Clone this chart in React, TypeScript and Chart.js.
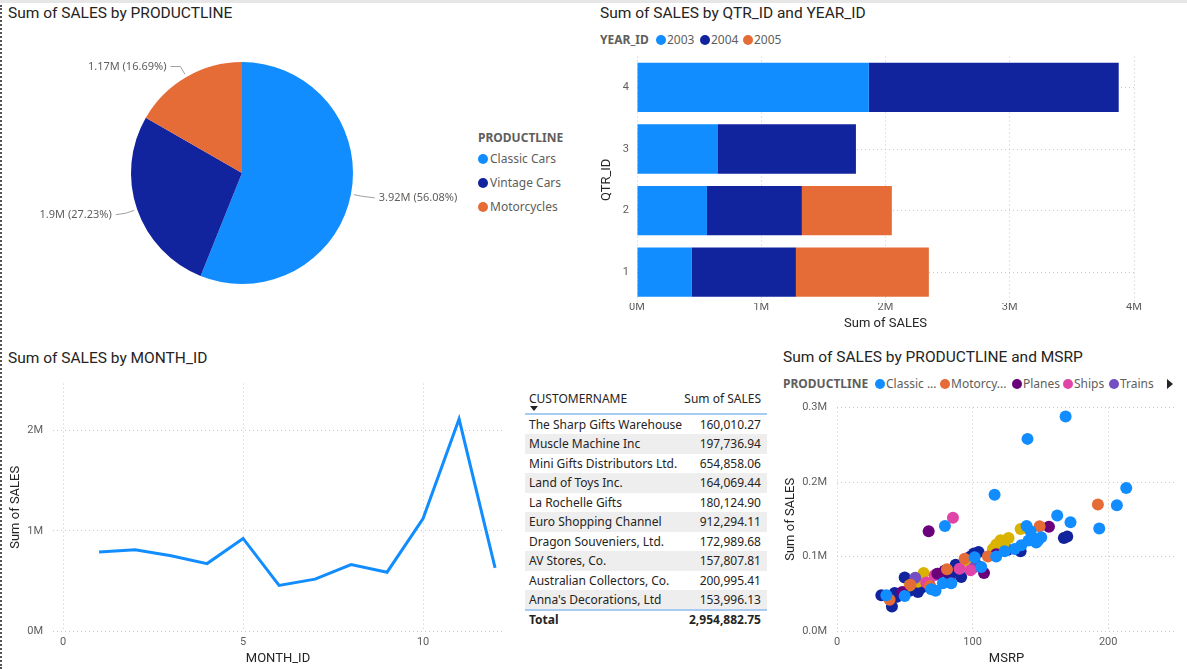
import React, { useEffect, useRef } from 'react';
import { Chart, registerables } from 'chart.js';

Chart.register(...registerables);

// ---------- DATA ----------
const productLines = ['Classic Cars', 'Vintage Cars', 'Motorcycles'];
const productSales = [3919615.66, 1903150.84, 1166388.34];
const productColors = ['#118DFF', '#12239E', '#E66C37'];

const quarterLabels = ['4', '3', '2', '1'];
const years = ['2003', '2004', '2005'];
const yearColors = ['#118DFF', '#12239E', '#E66C37'];
const sales2003 = [1866000, 652000, 563000, 442000];
const sales2004 = [2011000, 1110000, 764000, 837000];
const sales2005 = [null, null, 724000, 1070000];
const quarterTicks = [0, 1000000, 2000000, 3000000, 4000000];

const months = [1, 2, 3, 4, 5, 6, 7, 8, 9, 10, 11, 12];
const monthSales = [789000, 812000, 752000, 673000, 924000, 455000, 518000, 663000, 587000, 1122000, 2116000, 631000];

const customerNames = [
  'The Sharp Gifts Warehouse',
  'Muscle Machine Inc',
  'Mini Gifts Distributors Ltd.',
  'Land of Toys Inc.',
  'La Rochelle Gifts',
  'Euro Shopping Channel',
  'Dragon Souveniers, Ltd.',
  'AV Stores, Co.',
  'Australian Collectors, Co.',
  "Anna's Decorations, Ltd",
];
const customerSales = ['160,010.27', '197,736.94', '654,858.06', '164,069.44', '180,124.90', '912,294.11', '172,989.68', '157,807.81', '200,995.41', '153,996.13'];
const customerTotal = '2,954,882.75';

const scatterLines = ['Classic Cars', 'Motorcycles', 'Planes', 'Ships', 'Trains', 'Trucks and Buses', 'Vintage Cars'];
const scatterLegendLabels = ['Classic ...', 'Motorcy...', 'Planes', 'Ships', 'Trains'];
const scatterColors = ['#118DFF', '#E66C37', '#6B007B', '#E044A7', '#744EC2', '#D9B300', '#12239E'];
const classicCarsPoints = [
  [168.6, 288000], [140.5, 258000], [116.2, 183000], [213.3, 192000], [206.4, 169000], [193.4, 137500],
  [162.4, 155000], [172.2, 146000], [79.6, 141000], [139.8, 141000], [142.8, 134000], [141.3, 121500],
  [145.7, 124000], [148.2, 121500], [150.6, 126000], [146.9, 119000], [135.9, 115000], [131, 110000],
  [117.4, 100000], [123.6, 107000], [106.4, 86000], [78.1, 64000], [72.7, 54000], [69.5, 56000],
  [84.3, 64000], [49.9, 47000], [36.4, 48000], [101.5, 99000],
];
const motorcyclesPoints = [
  [192.4, 170000], [149.4, 140600], [111.3, 100000], [94.1, 97000], [81.1, 83000], [38.8, 42000],
  [68.5, 60500], [54.1, 62000],
];
const planesPoints = [
  [67.6, 134000], [156.3, 140000], [108.4, 78000], [117.4, 103000], [79.4, 81000], [74, 77000],
  [48.2, 52500], [83.5, 65000],
];
const shipsPoints = [[85.5, 152000], [72, 75000], [98.5, 81500], [90.4, 83700], [65.8, 65000]];
const trainsPoints = [[57.7, 71600], [101.5, 86000]];
const trucksPoints = [
  [135.4, 137000], [126.5, 125000], [120.6, 122000], [117.4, 116000], [115, 110000], [123.2, 118000],
  [63.9, 78000], [53.6, 61000], [59.7, 66000], [96.1, 92500], [115.9, 108000],
];
const vintageCarsPoints = [
  [32.7, 48000], [40.5, 33000], [42.5, 51000], [44.2, 46000], [49.9, 72000], [53.6, 54000],
  [59.7, 52500], [62.2, 58000], [65.8, 61000], [68.3, 61000], [83, 72000], [86.7, 81000],
  [87.5, 89000], [91.6, 72500], [96.1, 95000], [98.5, 100000], [101, 104000], [104.4, 106000],
  [103.4, 88000], [126, 109000], [135.4, 107000], [167.3, 125000], [169.8, 127000], [74.4, 77000],
  [79.4, 80500],
];
const scatterSeries = [classicCarsPoints, motorcyclesPoints, planesPoints, shipsPoints, trainsPoints, trucksPoints, vintageCarsPoints];

// ---------- STYLE ----------
const TITLE_FONT = 'Roboto, "DejaVu Sans", sans-serif';
const BODY_FONT = '"Noto Sans", "Open Sans", sans-serif';
const TICK_COLOR = '#605E5C';
const DARK = '#252423';
const GRID_COLOR = '#C8C6C4';

const tickFont = { family: TITLE_FONT, size: 11 };
const axisTitleFont = { family: TITLE_FONT, size: 13 };

const fmtM = (v: number) => parseFloat((v / 1e6).toFixed(2)) + 'M';

const pieLabelPlugin = {
  id: 'pieLabels',
  afterDatasetsDraw(chart: any) {
    const ctx = chart.ctx;
    const meta = chart.getDatasetMeta(0);
    const data = chart.data.datasets[0].data as number[];
    const total = data.reduce((a, b) => a + b, 0);
    ctx.save();
    ctx.font = `11px ${BODY_FONT}`;
    ctx.fillStyle = TICK_COLOR;
    ctx.strokeStyle = '#A19F9D';
    ctx.lineWidth = 1;
    ctx.textBaseline = 'middle';
    meta.data.forEach((arc: any, i: number) => {
      const { x, y, startAngle, endAngle, outerRadius } = arc.getProps(['x', 'y', 'startAngle', 'endAngle', 'outerRadius'], true);
      const mid = (startAngle + endAngle) / 2;
      const c = Math.cos(mid);
      const s = Math.sin(mid);
      const p1x = x + c * (outerRadius + 3);
      const p1y = y + s * (outerRadius + 3);
      const p2x = x + c * (outerRadius + 12);
      const p2y = y + s * (outerRadius + 12);
      const right = c >= 0;
      const p3x = p2x + (right ? 12 : -10);
      const p3y = p2y + (Math.abs(s) < 0.5 ? 1.5 : 0);
      ctx.beginPath();
      ctx.moveTo(p1x, p1y);
      ctx.lineTo(p2x, p2y);
      ctx.lineTo(p3x, p3y);
      ctx.stroke();
      ctx.textAlign = right ? 'left' : 'right';
      const label = `${fmtM(data[i])} (${((data[i] / total) * 100).toFixed(2)}%)`;
      ctx.fillText(label, p3x + (right ? 4 : -4), p3y);
    });
    ctx.restore();
  },
};

function ChartBox({ left, top, width, height, makeConfig }: any) {
  const ref = useRef<HTMLCanvasElement | null>(null);
  useEffect(() => {
    const chart = new Chart(ref.current as HTMLCanvasElement, makeConfig());
    return () => chart.destroy();
  }, []);
  return (
    <div style={{ position: 'absolute', left, top, width, height }}>
      <canvas ref={ref} />
    </div>
  );
}

const pieConfig = () => ({
  type: 'pie',
  data: {
    labels: productLines,
    datasets: [{ data: productSales, backgroundColor: productColors, borderWidth: 0 }],
  },
  options: {
    responsive: true,
    maintainAspectRatio: false,
    animation: false,
    layout: { padding: { left: 131, right: 117, top: 22, bottom: 46 } },
    plugins: { legend: { display: false }, tooltip: { enabled: false } },
  },
  plugins: [pieLabelPlugin],
});

const barConfig = () => ({
  type: 'bar',
  data: {
    labels: quarterLabels,
    datasets: [sales2003, sales2004, sales2005].map((d, i) => ({
      label: years[i],
      data: d,
      backgroundColor: yearColors[i],
      barPercentage: 0.8,
      categoryPercentage: 1,
    })),
  },
  options: {
    indexAxis: 'y',
    responsive: true,
    maintainAspectRatio: false,
    animation: false,
    layout: { padding: { top: 4, right: 21, left: 0, bottom: 0 } },
    plugins: { legend: { display: false }, tooltip: { enabled: false } },
    scales: {
      x: {
        stacked: true,
        min: 0,
        max: 4000000,
        afterBuildTicks: (s: any) => { s.ticks = quarterTicks.map((v) => ({ value: v })); },
        ticks: { color: TICK_COLOR, font: tickFont, padding: -2, callback: (v: any) => v / 1e6 + 'M' },
        grid: { color: GRID_COLOR, drawTicks: false },
        border: { display: false, dash: [1, 3] },
        title: { display: true, text: 'Sum of SALES', color: DARK, font: axisTitleFont, padding: { top: 0, bottom: 8 } },
        afterFit: (s: any) => { s.height = 37; },
      },
      y: {
        stacked: true,
        ticks: { color: TICK_COLOR, font: tickFont, padding: 8 },
        grid: { color: GRID_COLOR, drawTicks: false, offset: false },
        border: { display: false, dash: [1, 3] },
        title: { display: true, text: 'QTR_ID', color: DARK, font: axisTitleFont, padding: { top: 4, bottom: 0 } },
        afterFit: (s: any) => { s.width = 42; },
      },
    },
  },
});

const lineConfig = () => ({
  type: 'line',
  data: {
    datasets: [{
      data: months.map((m, i) => ({ x: m, y: monthSales[i] })),
      borderColor: '#118DFF',
      borderWidth: 3,
      pointRadius: 0,
      tension: 0,
      fill: false,
    }],
  },
  options: {
    responsive: true,
    maintainAspectRatio: false,
    animation: false,
    layout: { padding: { top: 10, right: 10, left: 0, bottom: 0 } },
    plugins: { legend: { display: false }, tooltip: { enabled: false } },
    scales: {
      x: {
        type: 'linear',
        min: -0.28,
        max: 12.22,
        afterBuildTicks: (s: any) => { s.ticks = [0, 5, 10].map((v) => ({ value: v })); },
        ticks: { color: TICK_COLOR, font: tickFont, padding: 5 },
        grid: { color: GRID_COLOR, drawTicks: false },
        border: { display: false, dash: [1, 3] },
        title: { display: true, text: 'MONTH_ID', color: DARK, font: axisTitleFont, padding: { top: 0, bottom: 2 } },
        afterFit: (s: any) => { s.height = 38; },
      },
      y: {
        min: 0,
        max: 2470000,
        afterBuildTicks: (s: any) => { s.ticks = [0, 1000000, 2000000].map((v) => ({ value: v })); },
        ticks: { color: TICK_COLOR, font: tickFont, padding: 10, callback: (v: any) => v / 1e6 + 'M' },
        grid: { color: GRID_COLOR, drawTicks: false },
        border: { display: false, dash: [1, 3] },
        title: { display: true, text: 'Sum of SALES', color: DARK, font: axisTitleFont, padding: { top: 0, bottom: 0 } },
        afterFit: (s: any) => { s.width = 45; },
      },
    },
  },
});

const scatterConfig = () => ({
  type: 'scatter',
  data: {
    datasets: scatterSeries.map((pts, i) => ({
      label: scatterLines[i],
      data: pts.map(([x, y]) => ({ x, y })),
      backgroundColor: scatterColors[i],
      borderWidth: 0,
      pointRadius: 6,
    })),
  },
  options: {
    responsive: true,
    maintainAspectRatio: false,
    animation: false,
    layout: { padding: { top: 8, right: 11, left: 0, bottom: 0 } },
    plugins: { legend: { display: false }, tooltip: { enabled: false } },
    scales: {
      x: {
        type: 'linear',
        min: 0,
        max: 250,
        afterBuildTicks: (s: any) => { s.ticks = [0, 100, 200].map((v) => ({ value: v })); },
        ticks: { color: TICK_COLOR, font: tickFont, padding: 5 },
        grid: { color: GRID_COLOR, drawTicks: false },
        border: { display: false, dash: [1, 3] },
        title: { display: true, text: 'MSRP', color: DARK, font: axisTitleFont, padding: { top: 0, bottom: 2 } },
        afterFit: (s: any) => { s.height = 38; },
      },
      y: {
        min: 0,
        max: 300000,
        afterBuildTicks: (s: any) => { s.ticks = [0, 100000, 200000, 300000].map((v) => ({ value: v })); },
        ticks: { color: TICK_COLOR, font: tickFont, padding: 10, callback: (v: any) => (v / 1e6).toFixed(1) + 'M' },
        grid: { color: GRID_COLOR, drawTicks: false },
        border: { display: false, dash: [1, 3] },
        title: { display: true, text: 'Sum of SALES', color: DARK, font: axisTitleFont, padding: { top: 8, bottom: 0 } },
        afterFit: (s: any) => { s.width = 62; },
      },
    },
  },
});

// ---------- HTML PIECES ----------
const abs = (left: number, top: number, extra: any = {}) => ({ position: 'absolute' as const, left, top, whiteSpace: 'nowrap' as const, ...extra });

function Title({ x, y, text }: any) {
  return <div style={abs(x, y - 10, { font: `15.5px ${TITLE_FONT}`, color: DARK, lineHeight: '20px' })}>{text}</div>;
}

function Dot({ x, y, color }: any) {
  return <div style={abs(x - 5, y - 5, { width: 10, height: 10, borderRadius: 5, background: color })} />;
}

function LegendText({ x, y, text, bold }: any) {
  return (
    <div style={abs(x, y - 8, { font: `${bold ? 'bold ' : ''}12px ${BODY_FONT}`, color: TICK_COLOR, lineHeight: '16px' })}>{text}</div>
  );
}

function Table() {
  const left = 525;
  const width = 242;
  const rowH = 19.45;
  const firstTop = 415;
  const cellFont = `12px ${BODY_FONT}`;
  return (
    <div>
      <div style={abs(529, 391, { font: cellFont, color: DARK, lineHeight: '16px' })}>CUSTOMERNAME</div>
      <div style={abs(left, 391, { width: width - 6, textAlign: 'right', font: cellFont, color: DARK, lineHeight: '16px' })}>Sum of SALES</div>
      <div style={abs(530, 406, { width: 0, height: 0, borderLeft: '4px solid transparent', borderRight: '4px solid transparent', borderTop: '5px solid #252423' })} />
      <div style={abs(left, 413, { width, height: 2, background: '#A9CBF2' })} />
      {customerNames.map((n, i) => (
        <div key={n} style={abs(left, firstTop + i * rowH, { width, height: rowH, background: i % 2 === 1 ? '#EEEEEE' : 'transparent' })}>
          <div style={abs(4, 1, { font: cellFont, color: DARK, lineHeight: '18px' })}>{n}</div>
          <div style={abs(0, 1, { width: width - 6, textAlign: 'right', font: cellFont, color: DARK, lineHeight: '18px' })}>{customerSales[i]}</div>
        </div>
      ))}
      <div style={abs(left, 609, { width, height: 2, background: '#A9CBF2' })} />
      <div style={abs(529, 612, { font: `bold 12px ${BODY_FONT}`, color: DARK, lineHeight: '16px' })}>Total</div>
      <div style={abs(left, 612, { width: width - 6, textAlign: 'right', font: `bold 12px ${BODY_FONT}`, color: DARK, lineHeight: '16px' })}>{customerTotal}</div>
    </div>
  );
}

export default function App() {
  const yearDotX = [661, 705, 748];
  const scatterDotX = [880, 945, 1017, 1068, 1114];
  return (
    <div style={{ position: 'fixed', left: 0, top: 0, width: 1187, height: 669, background: '#fff', overflow: 'hidden' }}>
      <div style={abs(0, 0, { width: 1187, height: 3, background: '#E6E6E6' })} />
      <div style={abs(0, 5, { width: 0, height: 664, borderLeft: '2px dotted #555' })} />

      {/* Pie */}
      <Title x={8} y={13} text="Sum of SALES by PRODUCTLINE" />
      <ChartBox left={0} top={40} width={470} height={290} makeConfig={pieConfig} />
      <LegendText x={478} y={138} text="PRODUCTLINE" bold />
      {productLines.map((p, i) => (
        <React.Fragment key={p}>
          <Dot x={483} y={159 + i * 24} color={productColors[i]} />
          <LegendText x={490} y={159 + i * 24} text={p} />
        </React.Fragment>
      ))}

      {/* Bar */}
      <Title x={600} y={13} text="Sum of SALES by QTR_ID and YEAR_ID" />
      <LegendText x={600} y={40} text="YEAR_ID" bold />
      {years.map((y, i) => (
        <React.Fragment key={y}>
          <Dot x={yearDotX[i]} y={40} color={yearColors[i]} />
          <LegendText x={yearDotX[i] + 6} y={40} text={y} />
        </React.Fragment>
      ))}
      <ChartBox left={595} top={42} width={560} height={298} makeConfig={barConfig} />

      {/* Line */}
      <Title x={8} y={358} text="Sum of SALES by MONTH_ID" />
      <ChartBox left={8} top={367} width={505} height={302} makeConfig={lineConfig} />

      {/* Table */}
      <Table />

      {/* Scatter */}
      <Title x={783} y={357} text="Sum of SALES by PRODUCTLINE and MSRP" />
      <LegendText x={783} y={384} text="PRODUCTLINE" bold />
      {scatterLegendLabels.map((l, i) => (
        <React.Fragment key={l}>
          <Dot x={scatterDotX[i]} y={384} color={scatterColors[i]} />
          <LegendText x={scatterDotX[i] + 6} y={384} text={l} />
        </React.Fragment>
      ))}
      <div style={abs(1167, 379, { width: 0, height: 0, borderTop: '5px solid transparent', borderBottom: '5px solid transparent', borderLeft: '6px solid #252423' })} />
      <ChartBox left={775} top={391} width={412} height={278} makeConfig={scatterConfig} />
    </div>
  );
}
